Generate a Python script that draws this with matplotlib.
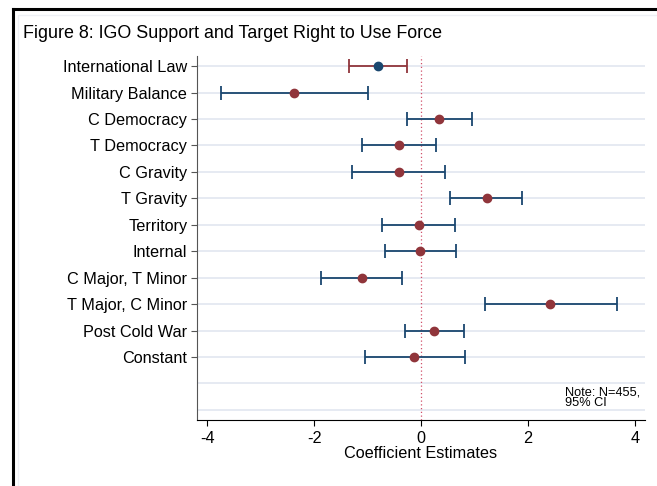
import matplotlib
matplotlib.use("Agg")
import matplotlib.pyplot as plt
from matplotlib.lines import Line2D
from matplotlib.patches import Rectangle

# coefficient estimates with 95% CI
labels = ["International Law", "Military Balance", "C Democracy", "T Democracy",
          "C Gravity", "T Gravity", "Territory", "Internal", "C Major, T Minor",
          "T Major, C Minor", "Post Cold War", "Constant"]
coef = [-0.81, -2.37, 0.34, -0.42, -0.42, 1.23, -0.04, -0.01, -1.11, 2.42, 0.24, -0.13]
lower = [-1.35, -3.74, -0.27, -1.11, -1.29, 0.55, -0.73, -0.67, -1.87, 1.20, -0.29, -1.05]
upper = [-0.27, -0.99, 0.95, 0.28, 0.45, 1.89, 0.64, 0.65, -0.36, 3.67, 0.80, 0.82]
xticks = [-4, -2, 0, 2, 4]

navy = "#1a476f"
maroon = "#90353b"

plt.rcParams["font.family"] = ["Liberation Sans", "DejaVu Sans"]

fig = plt.figure(figsize=(6.57, 4.86), dpi=100)
ax = fig.add_axes([197/657, 1 - 420/486, 448/657, 364/486])

# outer frame of the original graph window
fig.add_artist(Rectangle((18/657, -0.01), 1.1, 1 - 15/486 + 0.01, transform=fig.transFigure,
                         fill=False, edgecolor="#eef0f5", lw=1))
fig.add_artist(Line2D([12.5/657, 12.5/657], [0, 1 - 9/486], transform=fig.transFigure,
                      color="black", lw=2.2))
fig.add_artist(Line2D([12.5/657, 1], [1 - 9/486, 1 - 9/486], transform=fig.transFigure,
                      color="black", lw=2.2))

ypos = list(range(1, len(labels) + 1))
for y in range(1, 15):
    ax.axhline(y, color="#e4e8f1", lw=1.3, zorder=0)
ax.axvline(0, color="#d0506a", lw=0.9, ls=(0, (1, 2)), zorder=1)

for i, y in enumerate(ypos):
    line_c = maroon if i == 0 else navy
    dot_c = navy if i == 0 else maroon
    ax.errorbar(coef[i], y, xerr=[[coef[i] - lower[i]], [upper[i] - coef[i]]],
                fmt="none", ecolor=line_c, elinewidth=1.3, capsize=4.8, capthick=1.3, zorder=2)
    ax.plot(coef[i], y, "o", color=dot_c, ms=6, zorder=3)

ax.set_xlim(-4.19, 4.19)
ax.set_ylim(14.38, 0.62)
ax.set_yticks(ypos)
ax.set_yticklabels(labels, fontsize=11.7)
ax.set_xticks(xticks)
ax.set_xticklabels([str(t) for t in xticks], fontsize=11.7)
ax.tick_params(axis="y", length=4, color="#555555", pad=3)
ax.tick_params(axis="x", length=4, color="black", pad=4)
ax.set_xlabel("Coefficient Estimates", fontsize=11.7, labelpad=0)

ax.spines["top"].set_visible(False)
ax.spines["right"].set_visible(False)
ax.spines["left"].set_color("#555555")
ax.spines["bottom"].set_color("black")

ax.text(2.69, 13.55, "Note: N=455,\n95% CI", fontsize=9.2, va="center", ha="left", linespacing=0.85)

fig.text(23/657, 1 - 33/486, "Figure 8: IGO Support and Target Right to Use Force",
         fontsize=12.9, va="center", ha="left")

fig.savefig("out.png", dpi=100)
